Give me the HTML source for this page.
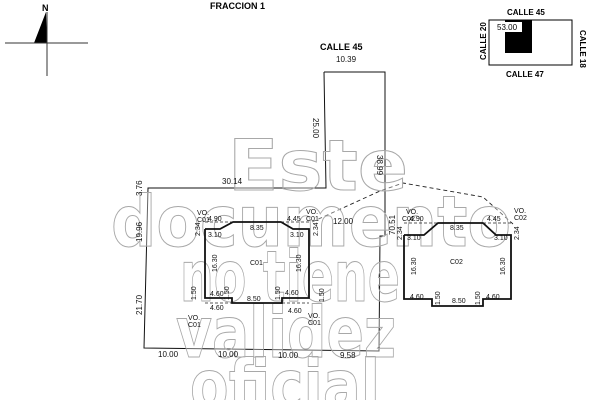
<!DOCTYPE html>
<html><head><meta charset="utf-8"><style>
html,body{margin:0;padding:0;background:#fff;width:600px;height:400px;overflow:hidden;}
svg{display:block;overflow:hidden;font-family:"Liberation Sans",Arial,sans-serif;}
.t{font-size:8px;fill:#111;}
.s{font-size:7px;fill:#111;}
.w{font-family:"DejaVu Sans","Liberation Sans",sans-serif;font-weight:bold;fill:#fff;fill-opacity:0.35;stroke:#a8a8a8;stroke-width:1;text-anchor:middle;}
</style></head><body>
<svg width="600" height="400" viewBox="0 0 600 400" xmlns="http://www.w3.org/2000/svg">
<text x="42" y="11" font-size="9" font-weight="bold">N</text>
<polygon points="46,12 47,43 34,43" fill="#000"/>
<line x1="5" y1="43" x2="88" y2="43" stroke="#333" stroke-width="1"/>
<line x1="47" y1="12" x2="47" y2="76" stroke="#333" stroke-width="1"/>
<text x="210" y="9" font-size="9" font-weight="bold">FRACCION 1</text>
<text x="507" y="15" font-size="8" font-weight="bold">CALLE  45</text>
<rect x="489" y="20" width="83" height="45" fill="#fff" stroke="#000" stroke-width="1"/>
<rect x="505" y="20" width="27" height="33" fill="#000"/>
<rect x="496" y="22" width="26" height="10" fill="#fff"/>
<text x="497" y="30" font-size="8">53.00</text>
<text x="506" y="77" font-size="8" font-weight="bold">CALLE  47</text>
<text transform="translate(486,60) rotate(-90)" font-size="8" font-weight="bold">CALLE 20</text>
<text transform="translate(580,30) rotate(90)" font-size="8" font-weight="bold">CALLE 18</text>
<g fill="none" stroke="#111" stroke-width="1">
<polyline points="324,72 385,72 385,236"/>
<polyline points="324,72 326,188 148,188 144,348 379,351 380,236 385,236"/>
</g>
<g fill="none" stroke="#222" stroke-width="0.9" stroke-dasharray="4,3">
<polyline points="312,222 380,191 403,183 483,197 513,224"/>
</g>
<g class="w">
<text x="318" y="190" font-size="70" textLength="180" lengthAdjust="spacingAndGlyphs">Este</text>
<text x="311" y="246" font-size="70" textLength="400" lengthAdjust="spacingAndGlyphs">documento</text>
<text x="290" y="301" font-size="70" textLength="220" lengthAdjust="spacingAndGlyphs">no tiene</text>
<text x="286" y="357" font-size="70" textLength="220" lengthAdjust="spacingAndGlyphs">validez</text>
<text x="285" y="410" font-size="70" textLength="190" lengthAdjust="spacingAndGlyphs">oficial</text>
</g>
<g fill="none" stroke="#111" stroke-width="1.8">
<polyline points="205,229 205,298 232,298 232,303 282,303 282,298 309,298 309,229 293,229 281,222 233,222 220,229 205,229"/>
<polyline points="404,235 404,299 432,299 432,306 483,306 483,299 511,299 511,235 496,235 483,223 438,223 424,235 404,235"/>
</g>
<g fill="none" stroke="#222" stroke-width="0.8" stroke-dasharray="3,2">
<polyline points="205,222 233,222"/><polyline points="281,222 309,222"/>
<polyline points="205,303 232,303"/><polyline points="282,303 309,303"/>
<polyline points="404,223 438,223"/><polyline points="483,223 511,223"/>
</g>
<text x="320" y="50" font-size="9" font-weight="bold">CALLE 45</text>
<text x="336" y="62" class="t" font-size="9">10.39</text>
<text transform="translate(313,118) rotate(90)" class="t">25.00</text>
<text transform="translate(377,155) rotate(90)" class="t">38.99</text>
<text x="222" y="184" class="t">30.14</text>
<text transform="translate(142,196) rotate(-90)" class="t">3.76</text>
<text transform="translate(142,242) rotate(-90)" class="t">19.96</text>
<text transform="translate(142,315) rotate(-90)" class="t">21.70</text>
<text x="158" y="357" class="t">10.00</text>
<text x="218" y="357" class="t">10.00</text>
<text x="278" y="358" class="t">10.00</text>
<text x="340" y="358" class="t">9.58</text>
<text x="333" y="224" class="t">12.00</text>
<text transform="translate(395,235) rotate(-90)" class="t">70.51</text>
<text x="250" y="265" class="s">C01</text>
<text x="450" y="264" class="s">C02</text>
<g class="s">
<text x="197" y="215">VO.</text><text x="197" y="222">C01</text>
<text x="306" y="214">VO.</text><text x="306" y="221">C01</text>
<text x="208" y="221">4.90</text><text x="287" y="221">4.45</text>
<text x="250" y="230">8.35</text>
<text x="208" y="237">3.10</text><text x="290" y="237">3.10</text>
<text x="210" y="310">4.60</text><text x="285" y="295">4.60</text>
<text x="210" y="296">4.60</text><text x="288" y="313">4.60</text>
<text x="247" y="301">8.50</text>
<text x="188" y="320">VO.</text><text x="188" y="327">C01</text>
<text x="308" y="318">VO.</text><text x="308" y="325">C01</text>
<text x="406" y="214">VO.</text><text x="402" y="221">C02</text>
<text x="514" y="213">VO.</text><text x="514" y="220">C02</text>
<text x="410" y="221">4.90</text><text x="487" y="221">4.45</text>
<text x="450" y="230">8.35</text>
<text x="407" y="240">3.10</text><text x="494" y="240">3.10</text>
<text x="410" y="299">4.60</text><text x="486" y="299">4.60</text>
<text x="452" y="303">8.50</text>
</g>
<g class="s">
<text transform="translate(200,236) rotate(-90)">2.34</text>
<text transform="translate(318,236) rotate(-90)">2.34</text>
<text transform="translate(402,240) rotate(-90)">2.34</text>
<text transform="translate(519,240) rotate(-90)">2.34</text>
<text transform="translate(217,272) rotate(-90)">16.30</text>
<text transform="translate(301,272) rotate(-90)">16.30</text>
<text transform="translate(416,275) rotate(-90)">16.30</text>
<text transform="translate(505,275) rotate(-90)">16.30</text>
<text transform="translate(229,300) rotate(-90)">1.50</text>
<text transform="translate(280,300) rotate(-90)">1.50</text>
<text transform="translate(196,300) rotate(-90)">1.50</text>
<text transform="translate(324,302) rotate(-90)">1.50</text>
<text transform="translate(440,305) rotate(-90)">1.50</text>
<text transform="translate(480,305) rotate(-90)">1.50</text>
</g>
</svg>
</body></html>
